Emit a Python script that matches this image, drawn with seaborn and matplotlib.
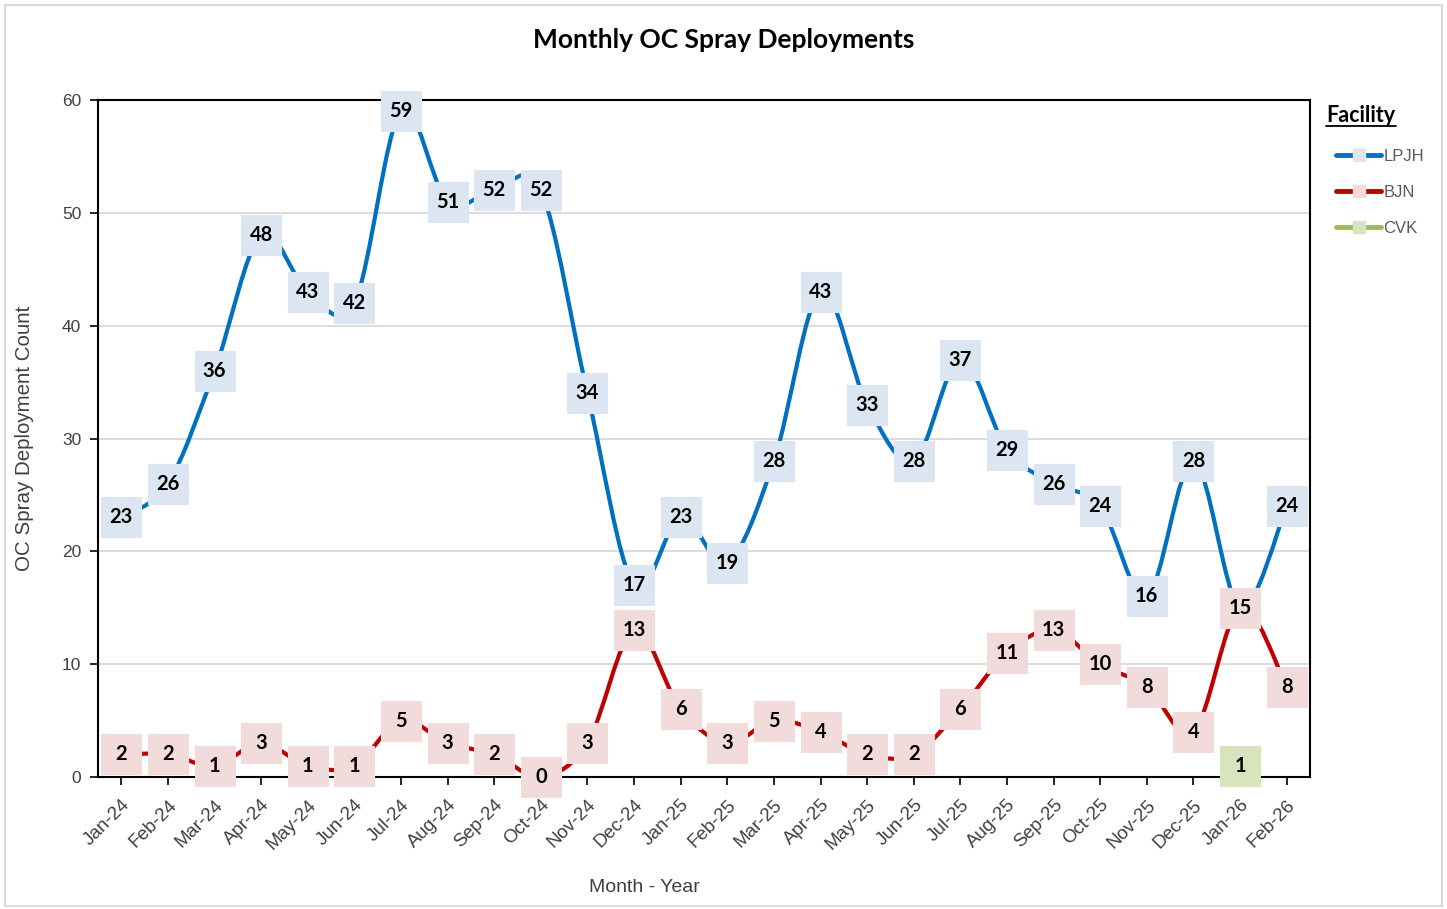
import numpy as np
import pandas as pd
import matplotlib
matplotlib.use('Agg')
import matplotlib.pyplot as plt
import seaborn as sns
from matplotlib.path import Path
from matplotlib.patches import PathPatch, Rectangle
from matplotlib.lines import Line2D

# ---------------- data ----------------
months = ["Jan-24", "Feb-24", "Mar-24", "Apr-24", "May-24", "Jun-24", "Jul-24", "Aug-24",
          "Sep-24", "Oct-24", "Nov-24", "Dec-24", "Jan-25", "Feb-25", "Mar-25", "Apr-25",
          "May-25", "Jun-25", "Jul-25", "Aug-25", "Sep-25", "Oct-25", "Nov-25", "Dec-25",
          "Jan-26", "Feb-26"]
lpjh = [23, 26, 36, 48, 43, 42, 59, 51, 52, 52, 34, 17, 23, 19, 28, 43, 33, 28, 37, 29,
        26, 24, 16, 28, 15, 24]
bjn = [2, 2, 1, 3, 1, 1, 5, 3, 2, 0, 3, 13, 6, 3, 5, 4, 2, 2, 6, 11, 13, 10, 8, 4, 15, 8]
cvk = [np.nan] * 24 + [1, np.nan]

series_names = ["LPJH", "BJN", "CVK"]
line_colors = ["#0070C0", "#C00000", "#9BBB59"]
box_colors = ["#DCE6F2", "#F2DCDB", "#D7E4BD"]
y_ticks = [0, 10, 20, 30, 40, 50, 60]

df = pd.DataFrame({"Month": months, "idx": np.arange(len(months)),
                   "LPJH": lpjh, "BJN": bjn, "CVK": cvk})

# ---------------- style ----------------
sns.set_theme(style="white")
plt.rcParams['font.family'] = ['Lato', 'DejaVu Sans']
ARIAL = ['Liberation Sans', 'DejaVu Sans']

W, H = 1447, 909
fig = plt.figure(figsize=(W / 100, H / 100), dpi=100)
ax = fig.add_axes([98 / W, (H - 777) / H, 1212 / W, 677 / H])


def smooth_runs(xs, ys):
    """Bezier path through the data points (Excel-like smoothed line)."""
    runs, cur = [], []
    for x, y in zip(xs, ys):
        if np.isnan(y):
            if cur:
                runs.append(cur)
            cur = []
        else:
            cur.append((x, y))
    if cur:
        runs.append(cur)
    verts, codes = [], []
    for run in runs:
        if len(run) < 2:
            continue
        p = np.array(run, dtype=float)
        n = len(p)
        verts.append(p[0]); codes.append(Path.MOVETO)
        for i in range(n - 1):
            p0 = p[i - 1] if i > 0 else p[i]
            p1, p2 = p[i], p[i + 1]
            p3 = p[i + 2] if i + 2 < n else p[i + 1]
            c1 = p1 + (p2 - p0) / 6.0
            c2 = p2 - (p3 - p1) / 6.0
            verts += [c1, c2, p2]
            codes += [Path.CURVE4] * 3
    if not verts:
        return None
    return Path(np.array(verts), codes)


# lines
for name, lc in zip(series_names, line_colors):
    path = smooth_runs(df["idx"].values, df[name].values.astype(float))
    if path is not None:
        ax.add_patch(PathPatch(path, facecolor="none", edgecolor=lc, lw=3.0,
                               capstyle="round", joinstyle="round", zorder=3))

# label boxes + numbers
for k, (name, bc) in enumerate(zip(series_names, box_colors)):
    sub = df[df[name].notna()]
    sns.scatterplot(data=sub, x="idx", y=name, marker="s", s=790, color=bc,
                    edgecolor=bc, linewidth=0.8, ax=ax, zorder=5 + k, legend=False)
    ax.collections[-1].set_clip_on(False)
    for xi, yi in zip(sub["idx"], sub[name]):
        ax.text(xi, yi, f"{int(yi)}", ha="center", va="center", fontsize=14.5,
                fontweight="bold", color="black", zorder=6 + k, clip_on=False)

# axes
ax.set_xlim(-0.5, len(months) - 0.5)
ax.set_ylim(0, 60)
ax.set_yticks(y_ticks)
ax.set_yticklabels([str(t) for t in y_ticks], family=ARIAL)
ax.set_xticks(np.arange(len(months)))
ax.set_xticklabels(months, rotation=45, ha="right", va="top", rotation_mode="anchor",
                   family=ARIAL)
ax.grid(axis="y", color="#D9D9D9", lw=1.3, zorder=0)
ax.set_axisbelow(True)
for s in ax.spines.values():
    s.set_visible(True)
    s.set_color("black")
    s.set_linewidth(1.5)
ax.tick_params(axis="x", bottom=True, length=6, width=1.2, color="black", pad=8,
               labelsize=13.5, labelcolor="#404040")
ax.tick_params(axis="y", left=True, length=6, width=1.2, color="black", pad=6,
               labelsize=12.5, labelcolor="#404040")

ax.set_xlabel("Month - Year", fontsize=14, color="#404040", family=ARIAL)
ax.xaxis.set_label_coords(0.451, -0.150)
ax.set_ylabel("OC Spray Deployment Count", fontsize=14.8, color="#404040", family=ARIAL)
ax.yaxis.set_label_coords(-0.053, 0.5)

# title
fig.text(0.5, 1 - 40 / H, "Monthly OC Spray Deployments", ha="center", va="center",
         fontsize=19, fontweight="bold", color="black")

# legend
handles = [Line2D([0], [0], color=lc, lw=3.5, marker="s", markersize=8,
                  markerfacecolor=bc, markeredgecolor=bc)
           for lc, bc in zip(line_colors, box_colors)]
ax.legend(handles, series_names, loc="upper left",
          bbox_to_anchor=(1336 / W, 1 - 149 / H), bbox_transform=fig.transFigure,
          frameon=False, handlelength=2.7, handletextpad=0.15, labelspacing=1.25,
          borderpad=0, borderaxespad=0, labelcolor="#595959",
          prop={"family": ARIAL, "size": 12})
fig.text(1326 / W, 1 - 115 / H, "Facility", ha="left", va="center", fontsize=15.5,
         fontweight="bold", color="black")
fig.add_artist(Line2D([1326 / W, 1396 / W], [1 - 126 / H, 1 - 126 / H],
                      transform=fig.transFigure, color="black", lw=1.3))

# outer border
fig.add_artist(Rectangle((5 / W, 3 / H), 1437 / W, 901 / H, transform=fig.transFigure,
                         fill=False, edgecolor="#D9D9D9", lw=1.5))

fig.savefig("out.png", dpi=100)
